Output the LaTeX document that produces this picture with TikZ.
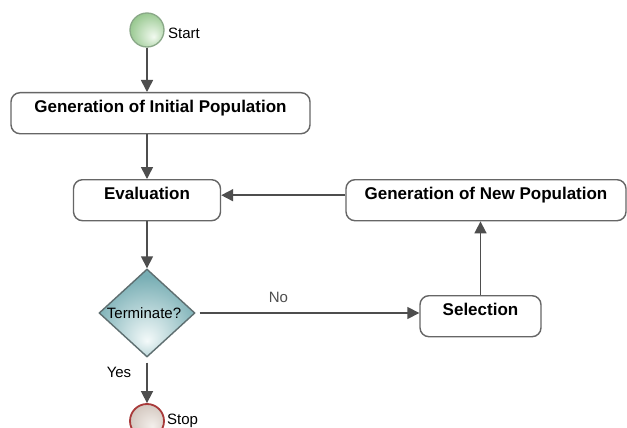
\documentclass[tikz,border=0pt]{standalone}
\usepackage{fontspec}
\setmainfont{Liberation Sans}
\usetikzlibrary{arrows.meta,shapes.geometric}

\definecolor{flowline}{HTML}{4E4E4E}
\definecolor{boxedge}{HTML}{666666}
\definecolor{startin}{HTML}{F2FAF0}
\definecolor{startout}{HTML}{98C890}
\definecolor{startedge}{HTML}{8AA888}
\definecolor{stopin}{HTML}{F4F0EC}
\definecolor{stopout}{HTML}{D2C6BE}
\definecolor{stopedge}{HTML}{A83A3A}
\definecolor{decin}{HTML}{F4FAFA}
\definecolor{decout}{HTML}{78AEB4}
\definecolor{decedge}{HTML}{5E6E70}

% soft highlights placed below and right of the shape centre
\pgfdeclareradialshading{startshade}{\pgfpoint{10bp}{-10bp}}{%
  color(0bp)=(startin); color(30bp)=(startout); color(50bp)=(startout)}
\pgfdeclareradialshading{stopshade}{\pgfpoint{8bp}{-8bp}}{%
  color(0bp)=(stopin); color(30bp)=(stopout); color(50bp)=(stopout)}
\pgfdeclareradialshading{decshade}{\pgfpoint{0bp}{-16bp}}{%
  color(0bp)=(decin); color(28bp)=(decout); color(50bp)=(decout)}

\tikzset{
  stepbox/.style={draw=boxedge, line width=1.4pt, rounded corners=9pt,
    fill=white, font=\bfseries\fontsize{17}{20}\selectfont,
    inner ysep=0pt, text height=20pt, text depth=21pt, anchor=north},
  decision/.style={diamond, draw=decedge, line width=1.4pt, shading=decshade,
    minimum width=96pt, minimum height=88pt, inner sep=0pt},
  startnode/.style={circle, draw=startedge, line width=1.3pt, shading=startshade,
    minimum size=34pt, inner sep=0pt},
  stopnode/.style={circle, draw=stopedge, line width=1.8pt, shading=stopshade,
    minimum size=34pt, inner sep=0pt},
  plain/.style={font=\fontsize{15}{18}\selectfont, inner sep=0pt},
  flow/.style={draw=flowline, line width=1.6pt,
    -{Triangle[length=12pt,width=12pt]}, color=flowline},
}

\begin{document}
\begin{tikzpicture}[x=1pt,y=-1pt]
\useasboundingbox (0,0) rectangle (627,428);
\clip (0,0) rectangle (627,428);
\fill[white] (0,0) rectangle (627,428);

% terminals
\node[startnode] (start) at (147,30) {};
\node[plain, anchor=west] (startlbl) at (168,33) {Start};
\node[stopnode] (stop) at (147,421) {};
\node[plain, anchor=west] (stoplbl) at (167,421) {Stop};

% process steps
\node[stepbox, minimum width=299pt] (init) at (160.5,92) {Generation of Initial Population};
\node[stepbox, minimum width=147pt] (eval) at (147,179) {Evaluation};
\node[stepbox, minimum width=280pt] (newpop) at (486,179) {Generation of New Population};
\node[stepbox, minimum width=121pt] (sel) at (480.5,295) {Selection};

% decision
\node[decision] (term) at (147,313) {};
\node[plain] (termlbl) at (144,313) {Terminate?};

% connectors
\draw[flow] (start) -- (start |- init.north);
\draw[flow] (start |- init.south) -- (eval.north);
\draw[flow] (eval.south) -- (term.north);
\draw[flow, shorten <=4pt] (term.east) -- (term.east -| sel.west)
  node[plain, pos=0.37, above=10pt] (nolbl) {No};
\draw[flow] (sel.north) -- (sel.north |- newpop.south);
\draw[flow] ([yshift=5pt]newpop.west) -- ([yshift=5pt]eval.east);
\draw[flow, shorten <=5pt] (term.south) -- (stop.north);
\node[plain] (yeslbl) at (119,372) {Yes};
\end{tikzpicture}
\end{document}
